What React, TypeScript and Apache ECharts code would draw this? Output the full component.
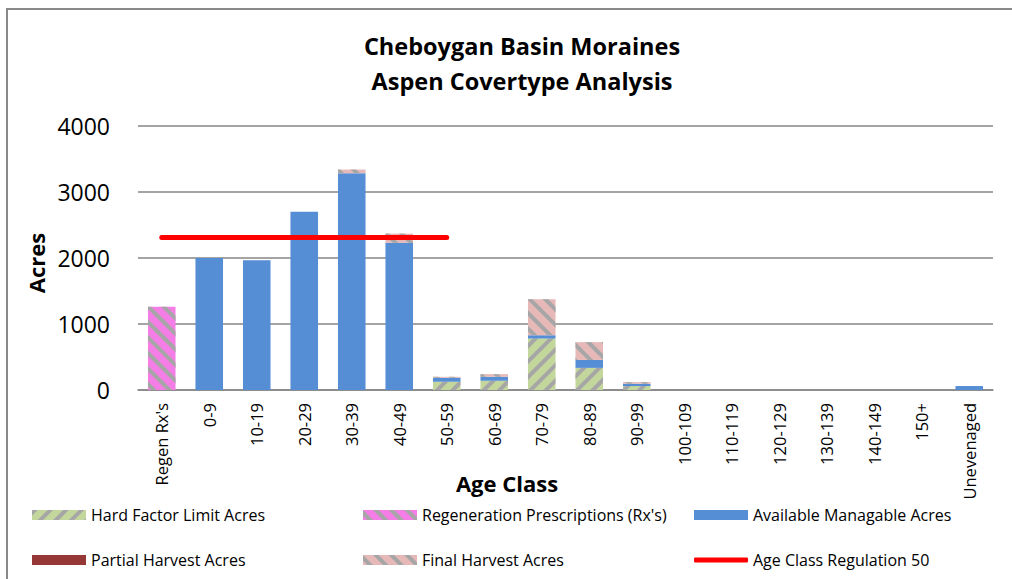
import React, { useEffect, useRef } from "react";
import * as echarts from "echarts";

const categories = [
  "Regen Rx's", "0-9", "10-19", "20-29", "30-39", "40-49", "50-59", "60-69",
  "70-79", "80-89", "90-99", "100-109", "110-119", "120-129", "130-139",
  "140-149", "150+", "Unevenaged",
];
const hardFactor = [0, 0, 0, 0, 0, 0, 125, 140, 780, 335, 60, 0, 0, 0, 0, 0, 0, 0];
const regenRx = [1260, 0, 0, 0, 0, 0, 0, 0, 0, 0, 0, 0, 0, 0, 0, 0, 0, 0];
const available = [0, 2000, 1965, 2700, 3285, 2230, 60, 60, 50, 120, 35, 0, 0, 0, 0, 0, 0, 60];
const partialHarvest = [0, 0, 0, 0, 0, 0, 0, 0, 0, 0, 0, 0, 0, 0, 0, 0, 0, 0];
const finalHarvest = [0, 0, 0, 0, 55, 140, 15, 40, 545, 270, 25, 0, 0, 0, 0, 0, 0, 0];
const regulation = [2310, 2310, 2310, 2310, 2310, 2310, 2310, null, null, null, null, null, null, null, null, null, null, null];
const yTicks = [0, 1000, 2000, 3000, 4000];

const FONT = "'Open Sans', 'Noto Sans', sans-serif";
const STRIPE = "#a6a6a6";

const stripes = (dir: number) => ({
  symbol: "rect",
  symbolSize: 1,
  color: STRIPE,
  dashArrayX: [1, 0],
  dashArrayY: [4, 7],
  rotation: (dir * Math.PI) / 4,
});

export default function App() {
  const ref = useRef<HTMLDivElement>(null);
  useEffect(() => {
    document.body.style.margin = "0";
    const chart = echarts.init(ref.current!, null, { renderer: "svg" });
    const legendItem = (name: string, left: number, top: number, h = 10, icon = "rect") => ({
      show: true,
      left,
      top,
      padding: 0,
      itemWidth: 54,
      itemHeight: h,
      icon,
      selectedMode: false,
      data: [name],
      textStyle: { fontFamily: FONT, fontSize: 16, color: "#000" },
    });
    const barBase = { type: "bar", stack: "total", barWidth: "58%" };
    chart.setOption({
      animation: false,
      backgroundColor: "#fff",
      grid: { left: 138, right: 19, top: 126, bottom: 189, containLabel: false },
      xAxis: {
        type: "category",
        data: categories,
        axisLine: { lineStyle: { color: "#868686", width: 1.5 } },
        axisTick: { show: false },
        axisLabel: {
          rotate: 90,
          interval: 0,
          margin: 13,
          fontFamily: FONT,
          fontSize: 16.5,
          color: "#000",
        },
      },
      yAxis: {
        type: "value",
        min: yTicks[0],
        max: yTicks[yTicks.length - 1],
        interval: 1000,
        axisLine: { show: false },
        axisTick: { show: false },
        splitLine: { lineStyle: { color: "#868686", width: 1.5 } },
        axisLabel: {
          margin: 28,
          fontFamily: FONT,
          fontSize: 23,
          color: "#000",
          formatter: (v: number) => String(v),
        },
      },
      legend: [
        legendItem("Hard Factor Limit Acres", 32, 507),
        legendItem("Regeneration Prescriptions (Rx's)", 363, 507),
        legendItem("Available Managable Acres", 694, 507),
        legendItem("Partial Harvest Acres", 32, 552),
        legendItem("Final Harvest Acres", 363, 552),
        legendItem("Age Class Regulation 50", 694, 552, 5, "roundRect"),
      ],
      graphic: [
        {
          type: "rect",
          shape: { x: 7, y: 9, width: 1100, height: 700 },
          style: { fill: "none", stroke: "#898989", lineWidth: 2 },
          silent: true,
        },
        {
          type: "text",
          x: 522,
          y: 46,
          style: {
            text: "Cheboygan Basin Moraines",
            font: `bold 23.5px ${FONT}`,
            fill: "#000",
            align: "center",
            verticalAlign: "middle",
          },
        },
        {
          type: "text",
          x: 522,
          y: 81,
          style: {
            text: "Aspen Covertype Analysis",
            font: `bold 23.5px ${FONT}`,
            fill: "#000",
            align: "center",
            verticalAlign: "middle",
          },
        },
        {
          type: "text",
          x: 507,
          y: 483,
          style: {
            text: "Age Class",
            font: `bold 22px ${FONT}`,
            fill: "#000",
            align: "center",
            verticalAlign: "middle",
          },
        },
        {
          type: "text",
          x: 36,
          y: 263,
          rotation: Math.PI / 2,
          style: {
            text: "Acres",
            font: `bold 22px ${FONT}`,
            fill: "#000",
            align: "center",
            verticalAlign: "middle",
          },
        },
      ],
      series: [
        {
          ...barBase,
          name: "Hard Factor Limit Acres",
          data: hardFactor,
          itemStyle: { color: "#c3d69b", decal: stripes(-1) },
        },
        {
          ...barBase,
          name: "Regeneration Prescriptions (Rx's)",
          data: regenRx,
          itemStyle: { color: "#f57de6", decal: stripes(1) },
        },
        {
          ...barBase,
          name: "Available Managable Acres",
          data: available,
          itemStyle: { color: "#558ed5" },
        },
        {
          ...barBase,
          name: "Partial Harvest Acres",
          data: partialHarvest,
          itemStyle: { color: "#953735" },
        },
        {
          ...barBase,
          name: "Final Harvest Acres",
          data: finalHarvest,
          itemStyle: { color: "#e6b9b8", decal: stripes(1) },
        },
        {
          type: "line",
          name: "Age Class Regulation 50",
          data: regulation,
          symbol: "none",
          connectNulls: false,
          itemStyle: { color: "#ff0000" },
          lineStyle: { color: "#ff0000", width: 5, cap: "round" },
          z: 5,
        },
      ],
    });
    return () => chart.dispose();
  }, []);
  return <div ref={ref} style={{ width: 1012, height: 579 }} />;
}
